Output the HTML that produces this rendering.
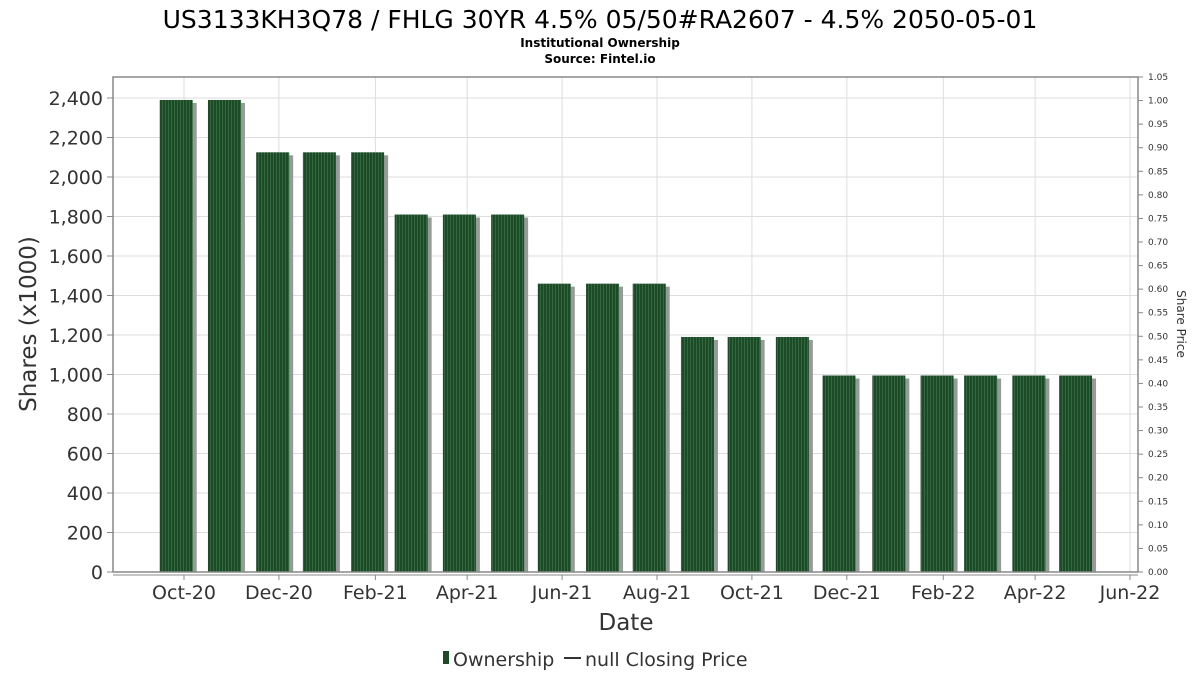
<!DOCTYPE html>
<html><head><meta charset="utf-8"><style>
body{margin:0;background:#fff;}
svg text{font-family:"DejaVu Sans","Liberation Sans",sans-serif;}
</style></head><body>
<svg id="c" width="1200" height="675" viewBox="0 0 1200 675" xmlns="http://www.w3.org/2000/svg">
<defs>
<pattern id="stripe" width="3" height="10" patternUnits="userSpaceOnUse">
<rect width="3" height="10" fill="#1f4a2a"/><rect width="1" height="10" fill="#2f6a3c"/>
</pattern>
</defs>
<text x="600" y="28" text-anchor="middle" font-size="25" fill="#000">US3133KH3Q78 / FHLG 30YR 4.5% 05/50#RA2607 - 4.5% 2050-05-01</text>
<text x="600" y="47" text-anchor="middle" font-size="12" font-weight="bold" fill="#000">Institutional Ownership</text>
<text x="600" y="63" text-anchor="middle" font-size="12" font-weight="bold" fill="#000">Source: Fintel.io</text>
<g id="grid"></g>
<g id="bars"></g>
<rect x="113" y="77" width="1025" height="495" fill="none" stroke="#888" stroke-width="1.5"/>
<g id="axes"></g>
<text transform="translate(36,324) rotate(-90)" text-anchor="middle" font-size="23" fill="#333">Shares (x1000)</text>
<text transform="translate(1177,324) rotate(90)" text-anchor="middle" font-size="12" fill="#333">Share Price</text>
<text x="626" y="630" text-anchor="middle" font-size="23" fill="#333">Date</text>
<g>
<rect x="443" y="651" width="6" height="13" fill="#1f4a2a"/>
<text x="453" y="666" font-size="19" fill="#333">Ownership</text>
<line x1="564" y1="658" x2="581" y2="658" stroke="#333" stroke-width="2"/>
<text x="585" y="666" font-size="19" fill="#333">null Closing Price</text>
</g>
</svg>
<script>
const dates=["2020-09-26","2020-10-27","2020-11-27","2020-12-27","2021-01-27","2021-02-24","2021-03-27","2021-04-27","2021-05-27","2021-06-27","2021-07-27","2021-08-27","2021-09-26","2021-10-27","2021-11-26","2021-12-28","2022-01-28","2022-02-25","2022-03-28","2022-04-27"];
const shares=[2390,2390,2125,2125,2125,1810,1810,1810,1460,1460,1460,1190,1190,1190,995,995,995,995,995,995];
const yTicks=[0,200,400,600,800,1000,1200,1400,1600,1800,2000,2200,2400];
const y2Ticks=[0,0.05,0.1,0.15,0.2,0.25,0.3,0.35,0.4,0.45,0.5,0.55,0.6,0.65,0.7,0.75,0.8,0.85,0.9,0.95,1.0,1.05];
const xTickDates=["2020-10-01","2020-12-01","2021-02-01","2021-04-01","2021-06-01","2021-08-01","2021-10-01","2021-12-01","2022-02-01","2022-04-01","2022-06-01"];
const xTickLabels=["Oct-20","Dec-20","Feb-21","Apr-21","Jun-21","Aug-21","Oct-21","Dec-21","Feb-22","Apr-22","Jun-22"];
const NS="http://www.w3.org/2000/svg";
const t0=Date.parse("2020-10-01"),t1=Date.parse("2022-06-01");
function x(d){return 184+(Date.parse(d)-t0)/(t1-t0)*(1130-184);}
function y(v){return 572-v*(474/2400);}
function y2(v){return 572-v*(495/1.05);}
function mk(tag,attrs,parent){const e=document.createElementNS(NS,tag);for(const k in attrs)e.setAttribute(k,attrs[k]);document.getElementById(parent).appendChild(e);return e;}
yTicks.forEach(v=>{
 const g=mk("line",{x1:113,x2:1138,y1:y(v),y2:y(v),stroke:"#ddd","stroke-width":1},"grid");
 
 
 const tk=mk("line",{x1:107,x2:113,y1:y(v),y2:y(v),stroke:"#888"},"axes");
 
 
 const t=mk("text",{x:103,y:y(v)+7,"text-anchor":"end","font-size":19,fill:"#333"},"axes");
 t.textContent=v.toLocaleString("en-US");
 
 
});
y2Ticks.forEach(v=>{
 const tk=mk("line",{x1:1138,x2:1143,y1:y2(v),y2:y2(v),stroke:"#888"},"axes");
 
 
 const t=mk("text",{x:1148,y:y2(v)+3,"font-size":9,fill:"#333"},"axes");
 t.textContent=v.toFixed(2);
 
 
});
xTickDates.forEach((d,i)=>{
 const g=mk("line",{x1:x(d),x2:x(d),y1:77,y2:572,stroke:"#ddd"},"grid");
 
 
 const tk=mk("line",{x1:x(d),x2:x(d),y1:575,y2:580,stroke:"#888"},"axes");
 
 
 const t=mk("text",{x:x(d),y:599,"text-anchor":"middle","font-size":19,fill:"#333"},"axes");
 t.textContent=xTickLabels[i];
 
 
});
const ax=mk("line",{x1:113,x2:1138,y1:575,y2:575,stroke:"#888"},"axes");


const bw=33;
dates.forEach((d,i)=>{
 const cx=x(d),top=y(shares[i]);
 const s=mk("rect",{x:cx-bw/2+4,y:top+3,width:bw,height:572-top-3,fill:"#999"},"bars");
 
 
 const b=mk("rect",{x:cx-bw/2,y:top,width:bw,height:572-top,fill:"url(#stripe)"},"bars");
 
 
});
</script>
</body></html>
